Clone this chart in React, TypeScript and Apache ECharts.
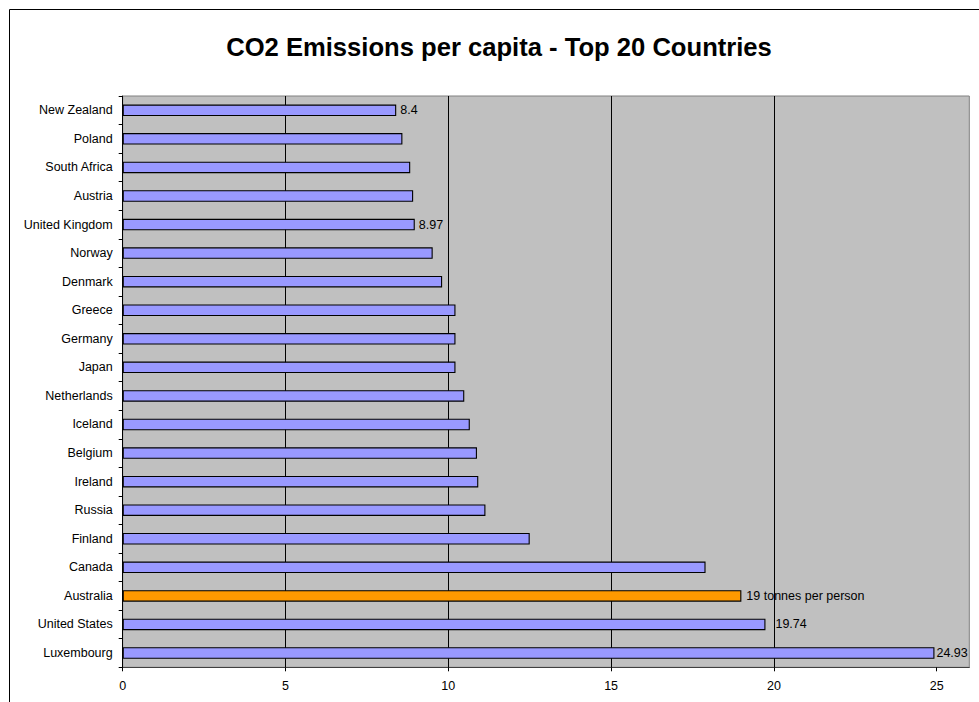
import React, { useEffect, useRef } from "react";
import * as echarts from "echarts";

// Countries listed bottom-to-top (category axis starts at the bottom)
const countries = [
  "Luxembourg",
  "United States",
  "Australia",
  "Canada",
  "Finland",
  "Russia",
  "Ireland",
  "Belgium",
  "Iceland",
  "Netherlands",
  "Japan",
  "Germany",
  "Greece",
  "Denmark",
  "Norway",
  "United Kingdom",
  "Austria",
  "South Africa",
  "Poland",
  "New Zealand",
];

// Tonnes of CO2 per person
const emissions = [
  24.93, 19.74, 19, 17.9, 12.5, 11.14, 10.92, 10.88, 10.66, 10.49, 10.22, 10.22,
  10.22, 9.81, 9.52, 8.97, 8.92, 8.83, 8.59, 8.4,
];

// Bars that carry a value label, with the text that follows the number
const labelSuffix: Record<string, string> = {
  "New Zealand": "",
  "United Kingdom": "",
  Australia: " tonnes per person",
  "United States": "",
  Luxembourg: "",
};

const highlighted = "Australia";

const xTicks = [0, 5, 10, 15, 20, 25];
const xMax = 26;

const titleText = "CO2 Emissions per capita - Top 20 Countries";

const FONT = "Arial, 'Liberation Sans', Helvetica, sans-serif";

export default function App() {
  const ref = useRef<HTMLDivElement>(null);

  useEffect(() => {
    if (!ref.current) return;
    const chart = echarts.init(ref.current, undefined, { renderer: "svg" });

    const labelGap: Record<string, number> = {
      Luxembourg: 2,
      "United States": 10,
      Australia: 5,
    };

    const data = countries.map((name, i) => {
      const value = emissions[i];
      const isHighlight = name === highlighted;
      const item: any = {
        value,
        itemStyle: {
          color: isHighlight ? "#FF9900" : "#9999FF",
          borderColor: "#000000",
          borderWidth: 1.1,
        },
      };
      if (name in labelSuffix) {
        item.label = {
          show: true,
          position: "right",
          distance: labelGap[name] ?? 4,
          formatter: () => `${value}${labelSuffix[name]}`,
          color: "#000000",
          fontFamily: FONT,
          fontSize: 12.5,
        };
      }
      return item;
    });

    chart.setOption({
      animation: false,
      backgroundColor: "#FFFFFF",
      grid: {
        left: 122.7,
        right: 9.7,
        top: 96,
        bottom: 34.7,
        containLabel: false,
        outerBoundsMode: "none",
        show: true,
        backgroundColor: "#C0C0C0",
        borderColor: "#808080",
        borderWidth: 1,
      },
      xAxis: {
        type: "value",
        min: 0,
        max: xMax,
        interval: 5,
        axisLine: { show: true, lineStyle: { color: "#404040", width: 1 } },
        axisTick: {
          show: true,
          inside: false,
          length: 4,
          customValues: xTicks,
          lineStyle: { color: "#000000", width: 1 },
        },
        axisLabel: {
          customValues: xTicks,
          margin: 12,
          color: "#000000",
          fontFamily: FONT,
          fontSize: 12.5,
        },
        splitLine: {
          show: true,
          showMinLine: false,
          showMaxLine: false,
          lineStyle: { color: "#000000", width: 1, type: "solid" },
        },
      },
      yAxis: {
        type: "category",
        data: countries,
        boundaryGap: true,
        axisLine: { show: true, lineStyle: { color: "#000000", width: 1 } },
        axisTick: {
          show: true,
          inside: false,
          length: 4,
          alignWithLabel: false,
          lineStyle: { color: "#000000", width: 1 },
        },
        axisLabel: {
          margin: 10,
          color: "#000000",
          fontFamily: FONT,
          fontSize: 12.5,
          interval: 0,
        },
        splitLine: { show: false },
      },
      series: [
        {
          type: "bar",
          data,
          barWidth: 11.5,
          silent: true,
        },
      ],
      graphic: [
        {
          type: "line",
          shape: { x1: 9.5, y1: 9.5, x2: 979, y2: 9.5 },
          style: { stroke: "#000000", lineWidth: 1 },
          silent: true,
        },
        {
          type: "line",
          shape: { x1: 9.5, y1: 9.5, x2: 9.5, y2: 702 },
          style: { stroke: "#000000", lineWidth: 1 },
          silent: true,
        },
        {
          type: "text",
          x: 499,
          y: 47,
          style: {
            text: titleText,
            fill: "#000000",
            font: `bold 25.6px ${FONT}`,
            textAlign: "center",
            textVerticalAlign: "middle",
          },
          silent: true,
        },
      ],
    });

    return () => {
      chart.dispose();
    };
  }, []);

  return (
    <div
      ref={ref}
      style={{
        position: "fixed",
        left: 0,
        top: 0,
        width: 979,
        height: 702,
      }}
    />
  );
}
